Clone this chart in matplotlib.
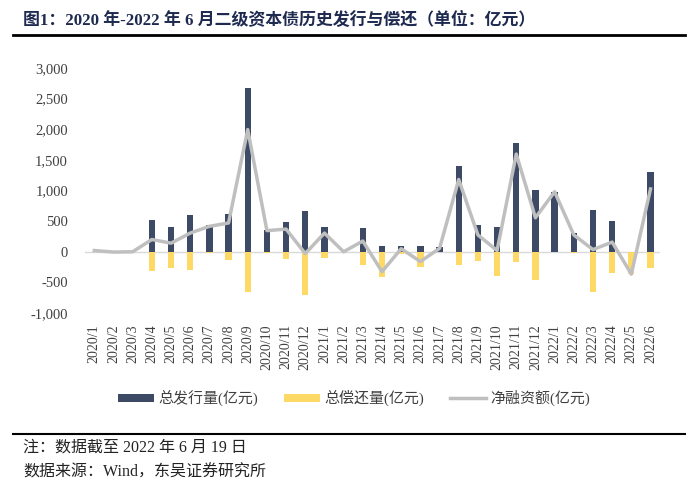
import matplotlib
matplotlib.use('Agg')
from matplotlib import pyplot as plt
from matplotlib.ticker import FuncFormatter
from matplotlib.lines import Line2D
import numpy as np

plt.rcParams['font.family'] = ['Liberation Serif', 'Noto Sans CJK SC']

# 月份
months = ['2020/1', '2020/2', '2020/3', '2020/4', '2020/5', '2020/6', '2020/7', '2020/8',
          '2020/9', '2020/10', '2020/11', '2020/12', '2021/1', '2021/2', '2021/3', '2021/4',
          '2021/5', '2021/6', '2021/7', '2021/8', '2021/9', '2021/10', '2021/11', '2021/12',
          '2022/1', '2022/2', '2022/3', '2022/4', '2022/5', '2022/6']
# 总发行量(亿元)
issuance = [0, 0, 0, 517, 408, 593, 441, 620, 2672, 359, 490, 658, 408, 0, 392, 87,
            98, 96, 70, 1404, 430, 397, 1780, 1007, 975, 299, 686, 506, 0, 1301]
# 总偿还量(亿元)
repayment = [0, 0, 0, -310, -272, -294, -20, -142, -664, -20, -114, -713, -109, 0, -212, -419,
             -40, -256, 0, -218, -158, -392, -169, -457, 0, -25, -664, -348, -365, -272]
# 净融资额(亿元)
net = [20, -5, 0, 200, 140, 305, 415, 470, 1995, 345, 370, -30, 305, 0, 175, -325,
       50, -160, 55, 1180, 275, 20, 1595, 555, 980, 275, 35, 158, -365, 1025]

fig = plt.figure(figsize=(7, 4.91), dpi=100)

# 标题
fig.text(0.033, 0.959, '图1：2020 年-2022 年 6 月二级资本债历史发行与偿还（单位：亿元）',
         fontsize=12.2, fontweight='bold', color='#1f2a50', va='center', ha='left')
fig.add_artist(Line2D([0.019, 0.979], [0.929, 0.929], color='black', lw=2))

ax = fig.add_axes([0.121, 0.3625, 0.822, 0.499])
x = np.arange(len(months))
ax.bar(x, issuance, width=0.33, color='#3c4a66', label='总发行量(亿元)', zorder=3)
ax.bar(x, repayment, width=0.33, color='#ffd966', label='总偿还量(亿元)', zorder=3)
ax.plot(x, net, color='#bfbfbf', lw=2.5, label='净融资额(亿元)', zorder=4)
ax.axhline(0, color='#d9d9d9', lw=1, zorder=2)

ax.set_xlim(-0.5, len(months) - 0.5)
ax.set_ylim(-1000, 3000)
ax.set_yticks(range(-1000, 3001, 500))
ax.yaxis.set_major_formatter(FuncFormatter(lambda v, p: '{:,.0f}'.format(v)))
ax.set_xticks(x)
ax.set_xticklabels(months, rotation=90, fontsize=10, color='#404040')
ax.tick_params(axis='y', labelsize=10.5, colors='#404040', length=0, pad=12)
ax.tick_params(axis='x', length=0, pad=8)
for s in ax.spines.values():
    s.set_visible(False)

h, l = ax.get_legend_handles_labels()
order = [1, 2, 0]
ax.legend([h[i] for i in order], [l[i] for i in order], loc='center',
          bbox_to_anchor=(0.468, -0.347), ncol=3, frameon=False,
          fontsize=10.8, handlelength=2.4, handleheight=0.45, columnspacing=1.7,
          handletextpad=0.3, labelcolor='#404040')

# 注释
fig.add_artist(Line2D([0.019, 0.979], [0.116, 0.116], color='black', lw=1.5))
fig.text(0.033, 0.088, '注：数据截至 2022 年 6 月 19 日', fontsize=11.5, va='center', color='#222222')
fig.text(0.033, 0.037, '数据来源：Wind，东吴证券研究所', fontsize=11.5, va='center', color='#222222')

fig.savefig('out.png', dpi=100)
